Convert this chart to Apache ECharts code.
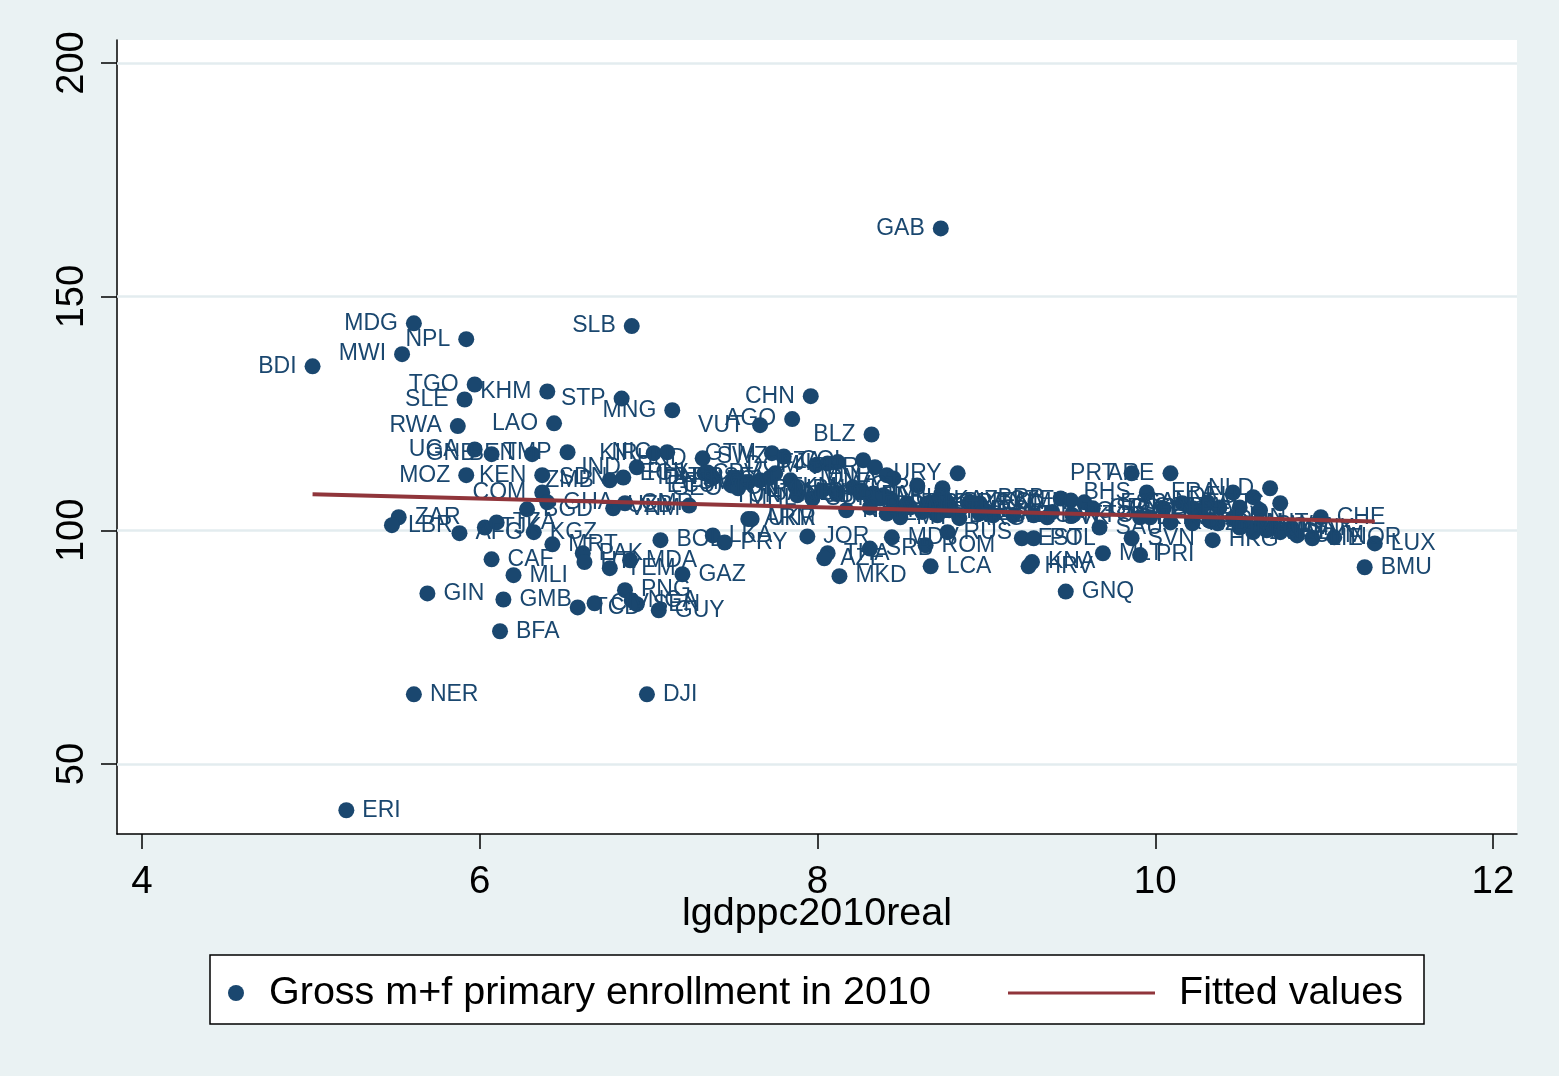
<!DOCTYPE html>
<html><head><meta charset="utf-8">
<script src="https://cdn.jsdelivr.net/npm/echarts@6/dist/echarts.min.js"></script>
<style>html,body{margin:0;padding:0;background:#EAF2F3}#c{width:1559px;height:1076px}</style>
</head><body><div id="c"></div>
<script>
const countries = ['BDI','MDG','MWI','NPL','TGO','SLE','KHM','RWA','LAO','UGA','GNB','BEN','TMP','MOZ','KEN','ZAR','LBR','AFG','TJK','TZA','KGZ','MRT','BGD','COM','GHA','CAF','MLI','GIN','GMB','BFA','NER','ERI','DJI','PAK','HTI','YEM','MDA','GAZ','PNG','TCD','CIV','NGA','SEN','GUY','BOL','LKA','PRY','ARM','UKR','JOR','THA','AZE','MKD','SRB','MDV','ROM','RUS','LCA','KNA','HRV','GNQ','EST','POL','MLT','PRI','SAU','SVN','HKG','NOR','LUX','BMU','GAB','SLB','STP','MNG','CHN','AGO','VUT','BLZ','URY','PRT','ARE','BHS','FRA','NLD','ESP','IND','KIR','NIC','HND','GTM','SWZ','EGY','ZMB','SDN','VNM','CMR','UZB','IDN','ECU','TUN','MHL','COL','PER','MNE','PHL','BTN','FSM','GEO','SLV','PSE','CPV','WSM','TON','DOM','FJI','DZA','IRQ','JAM','TKM','IRN','CUB','DMA','MUS','BRA','MEX','ZAF','MYS','VCT','GRD','PAN','ALB','BIH','CRI','SUR','TUR','BGR','KAZ','BLR','VEN','SYC','NAM','BWA','LBN','PLW','TUV','ARG','LVA','CHL','LTU','HUN','SVK','BRB','CZE','ATG','TTO','OMN','GRC','LBY','BHR','KWT','ISR','KOR','CYP','NZL','CAN','GBR','DEU','ITA','BEL','AUS','JPN','FIN','AUT','SWE','USA','DNK','CHE','SGP','BRN','MAC','IRL','QAT','ISL','CYM','LIE'];
const lgdppc = [5.01,5.61,5.54,5.92,5.97,5.91,6.40,5.87,6.44,5.97,6.07,6.31,6.52,5.92,6.37,5.52,5.48,5.88,6.03,6.10,6.32,6.43,6.28,6.37,6.40,6.07,6.20,5.69,6.14,6.12,5.61,5.21,6.99,6.61,6.62,6.77,6.89,7.20,6.86,6.58,6.68,6.90,6.93,7.06,7.07,7.38,7.45,7.59,7.61,7.94,8.06,8.04,8.13,8.31,8.44,8.64,8.77,8.67,9.27,9.25,9.47,9.21,9.28,9.69,9.91,9.67,9.86,10.34,11.06,11.30,11.24,8.73,6.90,6.84,7.14,7.96,7.85,7.66,8.32,8.83,9.86,10.09,9.95,10.46,10.68,10.16,6.93,7.03,7.11,7.32,7.73,7.80,7.33,6.77,6.85,6.79,6.86,7.24,7.38,7.49,7.88,7.97,8.27,8.34,8.41,7.35,7.51,7.59,7.53,7.66,7.72,7.75,7.84,7.87,7.99,8.06,8.12,8.03,8.12,8.21,8.26,8.31,8.45,8.37,8.45,8.55,8.41,8.49,8.59,8.74,8.74,8.25,8.33,8.39,8.43,8.53,8.65,8.71,8.77,8.90,8.96,8.17,8.31,8.62,8.71,8.78,8.84,8.96,9.04,9.16,9.28,9.36,9.44,9.50,9.39,9.51,9.58,9.63,8.99,9.91,9.97,10.05,10.09,10.22,10.22,10.31,10.38,10.58,10.50,10.62,10.74,10.32,10.46,10.54,10.62,10.70,10.80,10.98,10.27,10.37,10.50,10.58,10.66,10.74,10.84,10.93];
const enrollment = [135.1,144.3,137.7,140.9,131.2,128.0,129.7,122.3,122.9,117.3,116.3,116.3,116.7,111.8,111.8,102.8,101.1,99.4,100.6,101.7,99.6,97.0,104.5,108.1,106.0,93.8,90.4,86.5,85.2,78.4,64.9,40.1,64.9,95.1,93.2,91.9,93.6,90.6,87.2,83.5,84.4,85.0,84.2,82.9,97.9,98.9,97.4,102.4,102.4,98.7,95.1,94.0,90.2,96.1,98.5,96.8,99.6,92.3,93.2,92.3,86.9,98.3,98.3,95.1,94.7,100.6,98.3,97.9,98.5,97.2,92.1,164.6,143.7,128.2,125.7,128.7,123.8,122.5,120.5,112.2,112.2,112.2,108.1,108.1,109.0,105.8,113.5,116.5,116.7,115.4,116.5,115.8,112.2,110.7,111.3,104.7,105.8,105.3,111.3,109.6,107.5,106.8,115.0,113.5,111.8,112.4,111.3,110.3,109.0,110.7,111.3,112.2,110.7,109.2,113.9,114.3,114.6,108.6,107.9,109.2,108.6,107.5,111.1,106.8,105.3,104.9,103.6,102.8,109.6,109.0,107.5,108.1,107.9,107.5,106.8,105.8,105.8,106.4,106.0,106.0,105.8,104.3,104.9,103.9,103.2,104.3,102.6,103.6,103.2,103.2,103.2,102.8,106.8,106.4,103.9,103.2,106.0,104.7,104.3,102.8,102.8,104.7,101.7,104.7,101.5,106.0,104.9,107.1,104.9,104.3,105.8,102.1,102.6,101.5,101.1,100.6,100.4,102.8,104.3,101.5,100.6,99.6,100.0,99.6,98.9,98.3];
const leftLabeled = ['BDI','MDG','MWI','NPL','TGO','SLE','KHM','RWA','LAO','UGA','GNB','BEN','TMP','MOZ','KEN','COM','GAB','SLB','STP','MNG','CHN','AGO','VUT','BLZ','URY','PRT','ARE','BHS','FRA','NLD','ESP','IND','KIR','NIC','HND','GTM','SWZ','EGY','ZMB','SDN','UZB','IDN','ECU','TUN','MHL','COL','PER','MNE','PHL','BTN','FSM','GEO','SLV','PSE','CPV','WSM','TON','DOM','FJI','DZA','IRQ','JAM','TKM','IRN','CUB','DMA','VCT','GRD','PAN','ALB','BIH','CRI','SUR','BRB','CZE','OMN','ISR','CYP','CAN','GBR','DEU','ITA','BEL','AUS','SGP'];
const fitX = [5.01, 11.30];
const fitY = [107.7, 101.9];
const xTicks = [4, 6, 8, 10, 12];
const yTicks = [50, 100, 150, 200];
const seriesNames = ['Gross m+f primary enrollment in 2010', 'Fitted values'];
const xAxisTitle = 'lgdppc2010real';

const FONT = "'Liberation Sans', Arial, Helvetica, sans-serif";
const NAVY = '#1A476F';
const MAROON = '#90353B';
const chart = echarts.init(document.getElementById('c'));
const pts = countries.map((c, i) => ({
  name: c,
  value: [lgdppc[i], enrollment[i]],
  label: { position: leftLabeled.includes(c) ? 'left' : 'right' }
}));
chart.setOption({
  animation: false,
  backgroundColor: '#EAF2F3',
  textStyle: { fontFamily: FONT },
  grid: { left: 117, right: 42, top: 40, bottom: 242, show: true, backgroundColor: '#FFFFFF', borderWidth: 0 },
  xAxis: {
    type: 'value', min: 3.852, max: 12.142,
    axisLine: { show: true, lineStyle: { color: '#000', width: 1.5 } },
    axisTick: { show: true, customValues: xTicks, length: 15, lineStyle: { color: '#000', width: 1.5 } },
    axisLabel: { customValues: xTicks, fontSize: 38.5, color: '#000', margin: 29, fontFamily: FONT },
    splitLine: { show: false },
    name: xAxisTitle, nameLocation: 'middle', nameGap: 60, nameMoveOverlap: false,
    nameTextStyle: { fontSize: 39.5, color: '#000', fontFamily: FONT }
  },
  yAxis: {
    type: 'value', min: 35.02, max: 204.92,
    axisLine: { show: true, lineStyle: { color: '#000', width: 1.5 } },
    axisTick: { show: true, customValues: yTicks, length: 16, lineStyle: { color: '#000', width: 1.5 } },
    axisLabel: { customValues: yTicks, rotate: 90, fontSize: 38, color: '#000', margin: 25, fontFamily: FONT },
    splitLine: { show: false }
  },
  legend: [
    { data: [seriesNames[0]], left: 228, top: 973, padding: 0, icon: 'circle', itemWidth: 16, itemHeight: 16,
      textStyle: { fontSize: 39.5, color: '#000', fontFamily: FONT, padding: [0, 0, 0, 20] } },
    { data: [seriesNames[1]], left: 1008, top: 973, padding: 0, icon: 'rect', itemWidth: 147, itemHeight: 3,
      textStyle: { fontSize: 39.5, color: '#000', fontFamily: FONT, padding: [0, 0, 0, 19] } }
  ],
  graphic: [{
    type: 'rect', z: 0, silent: true,
    shape: { x: 210, y: 955, width: 1214, height: 69 },
    style: { fill: '#FFFFFF', stroke: '#000', lineWidth: 1.5 }
  }],
  series: [
    {
      type: 'line', name: 'grid', data: [], silent: true, z: 1,
      markLine: {
        silent: true, symbol: ['none', 'none'], z: 1, animation: false,
        label: { show: false },
        lineStyle: { color: '#E3ECEF', width: 2.5, type: 'solid' },
        data: yTicks.map(v => ({ yAxis: v }))
      }
    },
    {
      type: 'scatter', name: seriesNames[0], z: 3,
      symbol: 'circle', symbolSize: 16,
      itemStyle: { color: NAVY, opacity: 1 },
      label: { show: true, formatter: '{b}', fontSize: 23, color: NAVY, distance: 8, fontFamily: FONT },
      labelLayout: { hideOverlap: false },
      data: pts
    },
    {
      type: 'line', name: seriesNames[1], z: 4,
      symbol: 'none', showSymbol: false,
      lineStyle: { color: MAROON, width: 4 }, itemStyle: { color: MAROON },
      data: fitX.map((x, i) => [x, fitY[i]])
    }
  ]
});
</script></body></html>
